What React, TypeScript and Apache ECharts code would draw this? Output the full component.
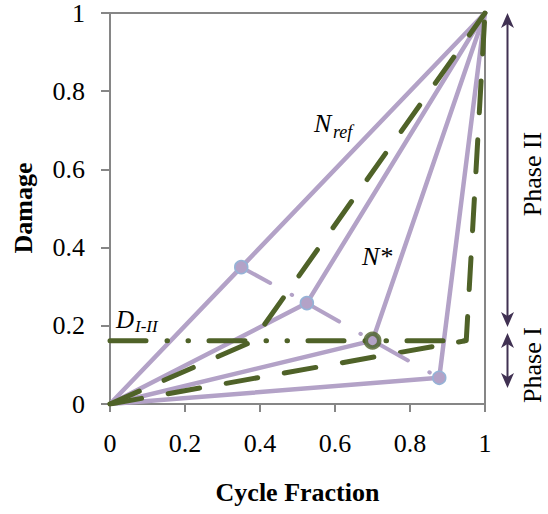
import React, { useEffect, useRef } from 'react';
import * as echarts from 'echarts';

// ---- data ----
const axisTicks = [0, 0.2, 0.4, 0.6, 0.8, 1];
const startPoint = [0, 0];
const endPoint = [1, 1];
// transition points (Phase I -> Phase II) of the four purple curves
const transitionPoints = [
  [0.35, 0.35],
  [0.525, 0.258],
  [0.70, 0.162],
  [0.878, 0.067],
];
const dI_II = 0.162;
const dI_IIEndX = 0.95;
// corners of the two green dashed bilinear curves
const greenCorners = [
  [0.38, 0.16],
  [0.95, 0.162],
];
const markedPoint = [0.70, 0.162];

const PURPLE = '#b3a2c7';
const GREEN = '#4f6228';
const ARROW = '#403152';
const AXIS = '#868686';
const FONT = "'Liberation Serif', 'Times New Roman', serif";

export default function App() {
  const ref = useRef<HTMLDivElement>(null);
  useEffect(() => {
    if (!ref.current) return;
    const chart = echarts.init(ref.current, undefined, { renderer: 'svg' });

    const purpleLines = transitionPoints.map((p, i) => ({
      type: 'line',
      name: 'curve' + i,
      data: [startPoint, p, endPoint],
      symbol: 'none',
      silent: true,
      lineStyle: { color: PURPLE, width: 4.5, cap: 'round', join: 'round' },
      z: 2,
    }));

    const greenLines = greenCorners.map((c, i) => ({
      type: 'line',
      name: 'bilinear' + i,
      data: [startPoint, c, endPoint],
      symbol: 'none',
      silent: true,
      lineStyle: { color: GREEN, width: 5, type: [32, 27], cap: 'round', join: 'round' },
      z: 3,
    }));

    const option: any = {
      animation: false,
      grid: {
        left: 110,
        right: 63,
        top: 10,
        bottom: 110,
        show: true,
        borderColor: AXIS,
        borderWidth: 2,
        backgroundColor: 'transparent',
      },
      xAxis: {
        type: 'value',
        min: axisTicks[0],
        max: axisTicks[axisTicks.length - 1],
        interval: 0.2,
        axisLine: { show: true, lineStyle: { color: AXIS, width: 2 } },
        axisTick: { show: true, length: 8, lineStyle: { color: AXIS, width: 2 } },
        splitLine: { show: false },
        axisLabel: { color: '#000', fontFamily: FONT, fontSize: 26, margin: 26 },
      },
      yAxis: {
        type: 'value',
        min: axisTicks[0],
        max: axisTicks[axisTicks.length - 1],
        interval: 0.2,
        axisLine: { show: true, lineStyle: { color: AXIS, width: 2 } },
        axisTick: { show: true, length: 9, lineStyle: { color: AXIS, width: 2 } },
        splitLine: { show: false },
        axisLabel: { color: '#000', fontFamily: FONT, fontSize: 26, margin: 25 },
      },
      series: [
        ...purpleLines,
        ...greenLines,
        {
          type: 'line',
          name: 'DI-II',
          data: [[0, dI_II], [dI_IIEndX, dI_II]],
          symbol: 'none',
          silent: true,
          lineStyle: { color: GREEN, width: 5, type: [36, 21, 0.5, 20.5, 0.5, 20.5], cap: 'round' },
          z: 4,
        },
        {
          type: 'line',
          name: 'transitions',
          data: transitionPoints,
          symbol: 'circle',
          symbolSize: 13,
          showSymbol: true,
          silent: true,
          itemStyle: { color: PURPLE, borderColor: '#95b3d7', borderWidth: 1.5 },
          lineStyle: { color: PURPLE, width: 4, type: [33, 24.5, 0.5, 21], cap: 'round' },
          z: 5,
        },
        {
          type: 'scatter',
          name: 'N*',
          data: [markedPoint],
          symbol: 'circle',
          symbolSize: 13.5,
          silent: true,
          itemStyle: { color: 'rgba(0,0,0,0)', borderColor: GREEN, borderWidth: 4.5 },
          z: 6,
        },
      ],
      graphic: [
        // axis titles
        {
          type: 'text', x: 297.5, y: 492.5,
          style: { text: 'Cycle Fraction', font: `bold 26px ${FONT}`, fill: '#000', align: 'center', verticalAlign: 'middle' },
        },
        {
          type: 'text', x: 23.5, y: 208, rotation: Math.PI / 2,
          style: { text: 'Damage', font: `bold 26px ${FONT}`, fill: '#000', align: 'center', verticalAlign: 'middle' },
        },
        // curve labels
        {
          type: 'text', x: 314, y: 123.5,
          style: { text: 'N', font: `italic 26px ${FONT}`, fill: '#000', align: 'left', verticalAlign: 'middle' },
        },
        {
          type: 'text', x: 333, y: 131.5,
          style: { text: 'ref', font: `italic 18px ${FONT}`, fill: '#000', align: 'left', verticalAlign: 'middle' },
        },
        {
          type: 'text', x: 362, y: 256.5,
          style: { text: 'N*', font: `italic 26px ${FONT}`, fill: '#000', align: 'left', verticalAlign: 'middle' },
        },
        {
          type: 'text', x: 116, y: 319.5,
          style: { text: 'D', font: `italic 25px ${FONT}`, fill: '#000', align: 'left', verticalAlign: 'middle' },
        },
        {
          type: 'text', x: 135, y: 326.5,
          style: { text: 'I-II', font: `italic 17px ${FONT}`, fill: '#000', align: 'left', verticalAlign: 'middle' },
        },
        // phase labels
        {
          type: 'text', x: 532, y: 174, rotation: Math.PI / 2,
          style: { text: 'Phase II', font: `26px ${FONT}`, fill: '#000', align: 'center', verticalAlign: 'middle' },
        },
        {
          type: 'text', x: 532, y: 365, rotation: Math.PI / 2,
          style: { text: 'Phase I', font: `26px ${FONT}`, fill: '#000', align: 'center', verticalAlign: 'middle' },
        },
        // Phase II arrow
        { type: 'line', shape: { x1: 507.5, y1: 22, x2: 507.5, y2: 318 }, style: { stroke: ARROW, lineWidth: 2 } },
        { type: 'polygon', shape: { points: [[507.5, 13], [514, 28], [507.5, 24], [501, 28]] }, style: { fill: ARROW } },
        { type: 'polygon', shape: { points: [[507.5, 327], [514, 312], [507.5, 316], [501, 312]] }, style: { fill: ARROW } },
        // Phase I arrow
        { type: 'line', shape: { x1: 507.5, y1: 342, x2: 507.5, y2: 379 }, style: { stroke: ARROW, lineWidth: 2 } },
        { type: 'polygon', shape: { points: [[507.5, 333], [514, 348], [507.5, 344], [501, 348]] }, style: { fill: ARROW } },
        { type: 'polygon', shape: { points: [[507.5, 388], [514, 373], [507.5, 377], [501, 373]] }, style: { fill: ARROW } },
      ],
    };

    chart.setOption(option);
    return () => chart.dispose();
  }, []);

  return (
    <div
      ref={ref}
      style={{ position: 'fixed', left: 0, top: 0, width: 548, height: 514, background: '#fff' }}
    />
  );
}
